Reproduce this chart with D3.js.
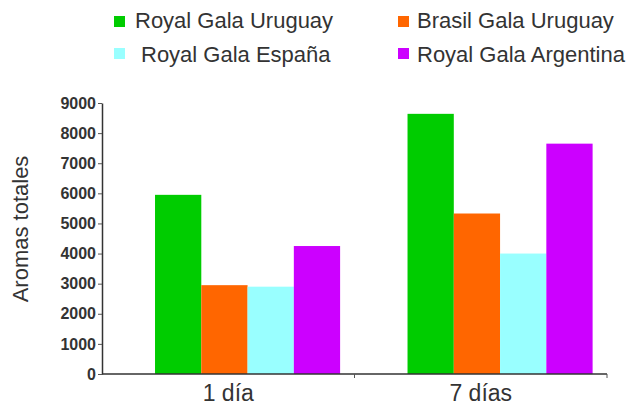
<!DOCTYPE html>
<html>
    <head>
        <meta charset="utf-8">
        <title>Aromas totales</title>
        <script src="https://d3js.org/d3.v7.min.js"></script>
        <style>
            body { margin: 0; background: #fff; }
            text { font-family: "Liberation Sans", Arial, sans-serif; fill: #333; }
        </style>
    </head>
    <body>
        <svg width="635" height="405"></svg>
        <script>
            // data
            var categories = ["1 día", "7 días"];
            var series = ["Royal Gala Uruguay", "Brasil Gala Uruguay", "Royal Gala España", "Royal Gala Argentina"];
            var valuesDay1 = [5950, 2950, 2900, 4250];
            var valuesDay7 = [8640, 5330, 4000, 7650];
            var yTicks = [0, 1000, 2000, 3000, 4000, 5000, 6000, 7000, 8000, 9000];
            var colors = ["#00cc00", "#ff6600", "#99ffff", "#cc00ff"];

            var rows = [valuesDay1, valuesDay7];
            var svg = d3.select("svg");

            var y = d3.scaleLinear().domain([0, 9000]).range([374, 103]);
            var x0 = d3.scaleBand().domain(categories).range([102, 607]);
            var bw = x0.bandwidth();
            var x1 = d3.scaleBand().domain(series).range([0.21 * bw, 0.943 * bw]);

            // bars
            var groups = svg.selectAll("g.grp")
                .data(categories)
                .enter()
                .append("g")
                .attr("class", "grp")
                .attr("transform", function(d) { return "translate(" + x0(d) + ",0)"; });

            groups.selectAll("rect")
                .data(function(d, i) {
                    return series.map(function(s, j) { return {s: s, v: rows[i][j], c: colors[j]}; });
                })
                .enter()
                .append("rect")
                .attr("x", function(d) { return x1(d.s); })
                .attr("y", function(d) { return y(d.v); })
                .attr("width", x1.bandwidth())
                .attr("height", function(d) { return y(0) - y(d.v); })
                .attr("fill", function(d) { return d.c; });

            // y axis
            var yAxis = svg.append("g")
                .attr("transform", "translate(102,0)")
                .call(d3.axisLeft(y).tickValues(yTicks).tickSize(4).tickSizeOuter(0).tickFormat(d3.format("d")));
            yAxis.select(".domain").attr("stroke", "#333").attr("stroke-width", 1.5);
            yAxis.selectAll(".tick line").attr("stroke", "#555");
            yAxis.selectAll(".tick text")
                .attr("x", -6)
                .style("font-size", "16px")
                .style("font-weight", "bold")
                .style("font-family", "'Liberation Sans', Arial, sans-serif")
                .attr("fill", "#333");

            // x axis
            var xr = x0.range();
            svg.append("line")
                .attr("x1", xr[0]).attr("x2", xr[1])
                .attr("y1", y(0)).attr("y2", y(0))
                .attr("stroke", "#333").attr("stroke-width", 1.5);
            var edges = categories.slice(1).map(function(d) { return x0(d); }).concat([xr[1]]);
            svg.selectAll("line.xt")
                .data(edges)
                .enter()
                .append("line")
                .attr("class", "xt")
                .attr("x1", function(d) { return d; })
                .attr("x2", function(d) { return d; })
                .attr("y1", y(0))
                .attr("y2", y(0) + 4)
                .attr("stroke", "#555");

            svg.selectAll("text.xl")
                .data(categories)
                .enter()
                .append("text")
                .attr("class", "xl")
                .attr("x", function(d) { return x0(d) + bw / 2; })
                .attr("y", 401)
                .attr("text-anchor", "middle")
                .style("font-size", "23px")
                .text(function(d) { return d; });

            // y title
            svg.append("text")
                .attr("transform", "translate(28,229) rotate(-90)")
                .attr("text-anchor", "middle")
                .style("font-size", "22px")
                .attr("fill", "#444")
                .text("Aromas totales");

            // legend
            var legPos = [[114, 16, 135, 28], [398, 16, 417, 28], [114, 48, 141, 62], [398, 48, 417, 62]];
            var leg = svg.selectAll("g.leg")
                .data(series)
                .enter()
                .append("g")
                .attr("class", "leg");
            leg.append("rect")
                .attr("x", function(d, i) { return legPos[i][0]; })
                .attr("y", function(d, i) { return legPos[i][1]; })
                .attr("width", 11)
                .attr("height", 11)
                .attr("fill", function(d, i) { return colors[i]; });
            leg.append("text")
                .attr("x", function(d, i) { return legPos[i][2]; })
                .attr("y", function(d, i) { return legPos[i][3]; })
                .style("font-size", "22px")
                .text(function(d) { return d; });
        </script>
    </body>
</html>
